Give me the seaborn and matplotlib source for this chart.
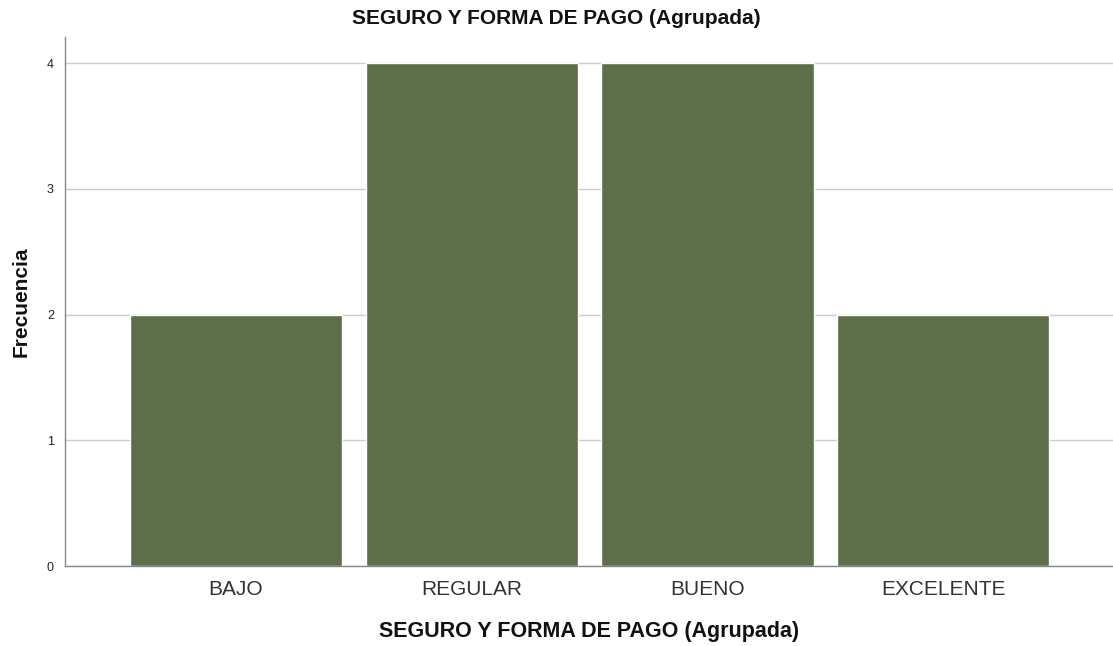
import matplotlib
matplotlib.use("Agg")
import matplotlib.pyplot as plt
import seaborn as sns
import pandas as pd

categories = ["BAJO", "REGULAR", "BUENO", "EXCELENTE"]
counts = [2, 4, 4, 2]
y_ticks = [0, 1, 2, 3, 4]

bar_color = "#5c6f48"

sns.set_style("white")
plt.rcParams["font.family"] = ["Liberation Sans", "DejaVu Sans"]

df = pd.DataFrame({"cat": categories, "freq": counts})

fig = plt.figure(figsize=(11.13, 6.46), dpi=100)
ax = fig.add_axes([0.0584, 0.1238, 0.9416, 0.8189])
ax.set_axisbelow(True)
ax.yaxis.grid(True, color="#cccccc", linewidth=1)
sns.barplot(data=df, x="cat", y="freq", color=bar_color, saturation=1,
            width=0.9, ax=ax, order=categories)

ax.set_xlim(-0.725, 3.72)
ax.set_ylim(0, 4.207)
ax.set_yticks(y_ticks)
ax.set_yticklabels([str(t) for t in y_ticks], fontsize=9)
ax.tick_params(axis="x", labelsize=15, length=0, pad=10, colors="#333333")
ax.tick_params(axis="y", length=0, pad=8, colors="#222222")

for s in ["top", "right"]:
    ax.spines[s].set_visible(False)
for s in ["left", "bottom"]:
    ax.spines[s].set_color("#888888")
    ax.spines[s].set_linewidth(1)

ax.set_xlabel("SEGURO Y FORMA DE PAGO (Agrupada)", fontsize=15.5, fontweight="bold",
              labelpad=16, color="#111111")
ax.set_ylabel("Frecuencia", fontsize=15, fontweight="bold", labelpad=12, color="#111111")
fig.suptitle("SEGURO Y FORMA DE PAGO (Agrupada)", x=0.5, y=0.986, fontsize=15,
             fontweight="bold", color="#111111")

fig.savefig("out.png", dpi=100)
